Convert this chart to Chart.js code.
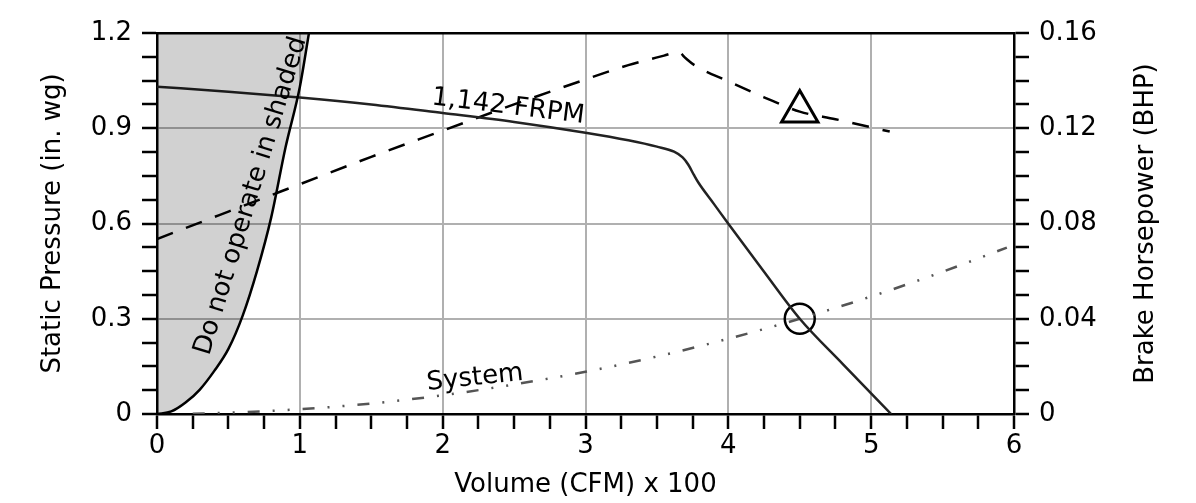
<!DOCTYPE html>
<html>
<head>
<meta charset="utf-8">
<title>Fan performance</title>
<script src="https://cdn.jsdelivr.net/npm/chart.js"></script>
<style>
  html, body { margin: 0; padding: 0; background: #fff; }
  canvas { display: block; }
</style>
</head>
<body>
<canvas id="fanChart" width="1196" height="503"></canvas>
<script>
// fan curve at 1,142 RPM (static pressure, in. wg)
const fanVolume = [0, 0.5, 1, 1.5, 2, 2.5, 3, 3.3, 3.5, 3.62, 3.68, 3.72, 3.76, 3.79, 3.9, 4.0, 4.25, 4.5, 4.8, 5.14];
const fanPressure = [1.031, 1.015, 0.997, 0.975, 0.948, 0.92, 0.886, 0.862, 0.842, 0.826, 0.808, 0.785, 0.752, 0.729, 0.661, 0.599, 0.448, 0.3, 0.158, 0];

// brake horsepower (right axis)
const bhpVolume = [0, 0.5, 1, 1.5, 2, 2.5, 3, 3.3, 3.55, 3.65, 3.7, 3.76, 4, 4.25, 4.5, 4.75, 5.13];
const bhpValues = [0.0735, 0.085, 0.0965, 0.108, 0.119, 0.13, 0.1405, 0.1465, 0.1505, 0.152, 0.1495, 0.1466, 0.1397, 0.133, 0.127, 0.1238, 0.1186];

// system resistance curve
const systemVolume = [0.25, 0.5, 1, 1.5, 2, 2.5, 3, 3.5, 4, 4.5, 5, 5.5, 5.95];
const systemPressure = [0.001, 0.004, 0.015, 0.033, 0.059, 0.093, 0.133, 0.181, 0.237, 0.3, 0.37, 0.448, 0.524];

// boundary of the unstable region (shaded to the left)
const limitVolume = [0, 0.1, 0.2, 0.3, 0.4, 0.5, 0.6, 0.7, 0.8, 0.9, 1.0, 1.064];
const limitPressure = [0, 0.008, 0.036, 0.077, 0.135, 0.205, 0.31, 0.45, 0.62, 0.84, 1.03, 1.2];

// operating point
const opVolume = 4.5;
const opPressure = 0.3;
const opBhp = 0.127;

// tick labels
const volumeLabels = [0, 1, 2, 3, 4, 5, 6];
const pressureLabels = [0, 0.3, 0.6, 0.9, 1.2];
const bhpLabels = [0, 0.04, 0.08, 0.12, 0.16];

const pts = (xs, ys) => xs.map((x, i) => ({ x, y: ys[i] }));
const near = (list, v) => list.find(l => Math.abs(l - v) < 1e-6);
const fmt = v => (v === 0 ? "0" : String(v));

const FONT = "'DejaVu Sans', 'Liberation Sans', sans-serif";
Chart.defaults.font.family = FONT;
Chart.defaults.font.size = 26;
Chart.defaults.color = "#000";

const GRID = "#b0b0b0";
const NONE = "rgba(0,0,0,0)";

// in-plot text labels: data position + rotation in degrees
const notes = [
  { text: "1,142 FRPM", x: 2.458, y: 0.967, angle: 7 },
  { text: "System", x: 2.227, y: 0.113, angle: -6 },
  { text: "Do not operate in shaded", x: 0.658, y: 0.687, angle: -73 },
];

const notesPlugin = {
  id: "notes",
  afterDatasetsDraw(chart) {
    const { ctx, scales, chartArea } = chart;
    ctx.save();
    ctx.font = "26px " + FONT;
    ctx.fillStyle = "#000";
    ctx.textAlign = "center";
    ctx.textBaseline = "middle";
    notes.forEach(n => {
      ctx.save();
      ctx.translate(scales.x.getPixelForValue(n.x), scales.y.getPixelForValue(n.y));
      ctx.rotate((n.angle * Math.PI) / 180);
      ctx.fillText(n.text, 0, 0);
      ctx.restore();
    });
    // right axis title reads bottom-to-top like the left one
    ctx.translate(scales.y2.right - 50, (chartArea.top + chartArea.bottom) / 2);
    ctx.rotate(-Math.PI / 2);
    ctx.fillText("Brake Horsepower (BHP)", 0, 0);
    ctx.restore();
  },
};

const tickGrid = (colorFn, extra) => Object.assign({
  color: colorFn,
  lineWidth: 2,
  drawTicks: true,
  tickLength: 15,
  tickWidth: 2.5,
  tickColor: "#000",
}, extra || {});

const border = { display: true, color: "#000", width: 2.5 };

new Chart(document.getElementById("fanChart"), {
  type: "scatter",
  data: {
    datasets: [
      {
        label: "limit",
        data: pts(limitVolume, limitPressure),
        yAxisID: "y",
        showLine: true,
        borderColor: "#000",
        borderWidth: 2.5,
        backgroundColor: "rgba(0,0,0,0.18)",
        fill: "end",
        cubicInterpolationMode: "monotone",
        pointRadius: 0,
      },
      {
        label: "fan",
        data: pts(fanVolume, fanPressure),
        yAxisID: "y",
        showLine: true,
        borderColor: "#222",
        borderWidth: 2.5,
        cubicInterpolationMode: "monotone",
        pointRadius: 0,
      },
      {
        label: "bhp",
        data: pts(bhpVolume, bhpValues),
        yAxisID: "y2",
        showLine: true,
        borderColor: "#000",
        borderWidth: 2.5,
        borderDash: [17, 14],
        cubicInterpolationMode: "monotone",
        pointRadius: 0,
      },
      {
        label: "system",
        data: pts(systemVolume, systemPressure),
        yAxisID: "y",
        showLine: true,
        borderColor: "#555",
        borderWidth: 2.5,
        borderDash: [12, 13, 2, 13, 2, 13],
        cubicInterpolationMode: "monotone",
        pointRadius: 0,
      },
      {
        label: "operating point",
        data: [{ x: opVolume, y: opPressure }],
        yAxisID: "y",
        pointStyle: "circle",
        pointRadius: 15,
        pointBorderWidth: 2.5,
        pointBorderColor: "#000",
        pointBackgroundColor: NONE,
      },
      {
        label: "operating bhp",
        data: [{ x: opVolume, y: opBhp }],
        yAxisID: "y2",
        pointStyle: "triangle",
        pointRadius: 21,
        pointBorderWidth: 3,
        pointBorderColor: "#000",
        pointBackgroundColor: NONE,
      },
    ],
  },
  options: {
    responsive: false,
    devicePixelRatio: 1,
    animation: false,
    layout: { padding: 0 },
    plugins: {
      legend: { display: false },
      tooltip: { enabled: false },
    },
    scales: {
      x: {
        type: "linear",
        position: "bottom",
        min: 0,
        max: 6,
        afterFit: s => { s.height = 89; },
        ticks: {
          stepSize: 0.25,
          autoSkip: false,
          maxRotation: 0,
          padding: 2,
          callback: v => (near(volumeLabels, v) !== undefined ? fmt(near(volumeLabels, v)) : ""),
        },
        grid: tickGrid(ctx => {
          const v = ctx.tick && ctx.tick.value;
          return near([1, 2, 3, 4, 5], v) !== undefined ? GRID : NONE;
        }),
        border,
        title: { display: true, text: "Volume (CFM) x 100", padding: { top: 0, bottom: 2 } },
      },
      xTop: {
        type: "linear",
        position: "top",
        min: 0,
        max: 6,
        afterFit: s => { s.height = 33; },
        ticks: { display: false },
        grid: { display: false, drawTicks: false },
        border,
      },
      y: {
        type: "linear",
        position: "left",
        min: 0,
        max: 1.2,
        afterFit: s => { s.width = 157; },
        ticks: {
          stepSize: 0.075,
          autoSkip: false,
          padding: 10,
          callback: v => (near(pressureLabels, v) !== undefined ? fmt(near(pressureLabels, v)) : ""),
        },
        grid: tickGrid(ctx => {
          const v = ctx.tick && ctx.tick.value;
          return near([0.3, 0.6, 0.9], v) !== undefined ? GRID : NONE;
        }),
        border,
        title: { display: true, text: "Static Pressure (in. wg)", padding: { top: 38, bottom: 0 } },
      },
      y2: {
        type: "linear",
        position: "right",
        min: 0,
        max: 0.16,
        afterFit: s => { s.width = 182; },
        ticks: {
          stepSize: 0.01,
          autoSkip: false,
          padding: 10,
          callback: v => (near(bhpLabels, v) !== undefined ? fmt(near(bhpLabels, v)) : ""),
        },
        grid: tickGrid(NONE, { drawOnChartArea: false }),
        border,
      },
    },
  },
  plugins: [notesPlugin],
});
</script>
</body>
</html>
